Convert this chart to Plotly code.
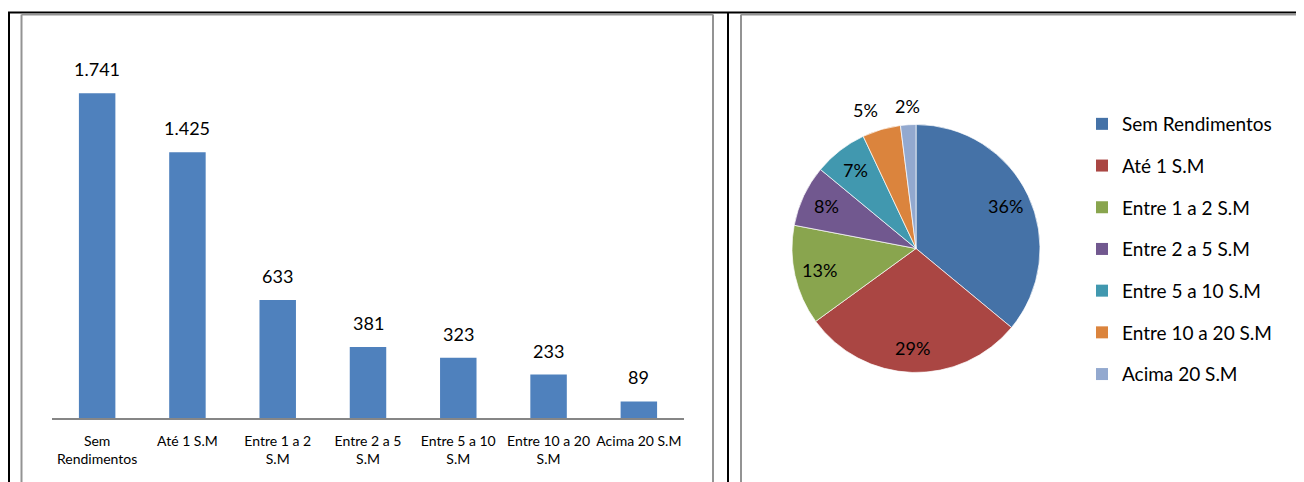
import math
import plotly.graph_objects as go

# Renda familiar (salarios minimos)
categorias = ["Sem Rendimentos", "Até 1 S.M", "Entre 1 a 2 S.M", "Entre 2 a 5 S.M",
              "Entre 5 a 10 S.M", "Entre 10 a 20 S.M", "Acima 20 S.M"]
rotulos_eixo = ["Sem<br>Rendimentos", "Até 1 S.M", "Entre 1 a 2<br>S.M", "Entre 2 a 5<br>S.M",
                "Entre 5 a 10<br>S.M", "Entre 10 a 20<br>S.M", "Acima 20 S.M"]
quantidade = [1741, 1425, 633, 381, 323, 233, 89]
percentual = [36, 29, 13, 8, 7, 5, 2]
rotulo_fora = [False, False, False, False, False, True, True]

cor_barra = "#4F81BD"
cores_pizza = ["#4572A7", "#AA4643", "#89A54E", "#71588F", "#4198AF", "#DB843D", "#93A9CF"]

# a pagina tem margem de 8px no body
OFF = 8
W, H = 1304 - OFF, 482 - OFF
FONTE = "Lato"


def px(x):
    return (x - OFF) / W


def py(y):
    return 1 - (y - OFF) / H


fig = go.Figure()

fig.add_trace(go.Bar(
    x=rotulos_eixo,
    y=quantidade,
    marker=dict(color=cor_barra, line=dict(width=0)),
    showlegend=False,
    hoverinfo="x+y",
    xaxis="x", yaxis="y",
))

# pizza: centro e raio em pixels da janela
CX, CY, R = 916, 248.5, 124
fig.add_trace(go.Pie(
    labels=categorias,
    values=percentual,
    sort=False,
    direction="clockwise",
    rotation=0,
    marker=dict(colors=cores_pizza, line=dict(color="white", width=0.7)),
    textinfo="none",
    domain=dict(x=[px(CX - R), px(CX + R)], y=[py(CY + R), py(CY - R)]),
    showlegend=False,
))

# legenda da pizza
for nome, cor in zip(categorias, cores_pizza):
    fig.add_trace(go.Scatter(
        x=[None], y=[None], mode="markers", name=nome, legendgroup=nome,
        marker=dict(symbol="square", size=12, color=cor),
        xaxis="x2", yaxis="y2",
    ))

anots = []

# rotulos de dados das barras
for cat, val in zip(rotulos_eixo, quantidade):
    anots.append(dict(
        x=cat, y=val, xref="x", yref="y", text=f"{val:,}".replace(",", "."),
        showarrow=False, yanchor="bottom", yshift=11,
        font=dict(family=FONTE, size=18, color="black"),
    ))

# rotulos de porcentagem da pizza (posicao a partir do angulo medio da fatia)
total = sum(percentual)
acum = 0
for p, fora in zip(percentual, rotulo_fora):
    meio = (acum + p / 2) / total * 2 * math.pi
    acum += p
    s, c = math.sin(meio), math.cos(meio)
    if fora:
        rr = 1.05 * R
        xa = "right" if s < -0.2 else ("left" if s > 0.2 else "center")
        ya = "bottom" if c > 0 else "top"
    else:
        rr = 0.8 * R
        xa, ya = "center", "middle"
    anots.append(dict(
        x=px(CX + rr * s), y=py(CY - rr * c), xref="paper", yref="paper",
        text=f"{p}%", showarrow=False, xanchor=xa, yanchor=ya,
        font=dict(family=FONTE, size=18, color="black"),
    ))

# bordas da tabela
linhas = []


def linha(x0, y0, x1, y1, cor, w):
    linhas.append(dict(type="line", xref="paper", yref="paper",
                       x0=px(x0), y0=py(y0), x1=px(x1), y1=py(y1),
                       line=dict(color=cor, width=w)))


CINZA = "#939393"
linha(8, 12.5, 1302, 12.5, "black", 2)
linha(9, 12, 9, 482, "black", 2)
linha(728, 12, 728, 482, "black", 2)
linha(21.5, 14.5, 21.5, 482, CINZA, 2)
linha(21.5, 14.5, 713, 14.5, CINZA, 2)
linha(713, 14.5, 713, 482, CINZA, 2)
linha(741, 14.5, 741, 482, CINZA, 2)
linha(741, 14.5, 1300.5, 14.5, CINZA, 2)
linha(1300.5, 14.5, 1300.5, 482, CINZA, 2)

fig.update_layout(
    width=W, height=H,
    margin=dict(l=0, r=0, t=0, b=0),
    paper_bgcolor="white", plot_bgcolor="white",
    font=dict(family=FONTE, color="black"),
    bargap=0.596,
    xaxis=dict(domain=[px(52), px(684)], type="category", showgrid=False,
               showline=True, linecolor="#868686", linewidth=1.5, ticks="",
               ticklabelstandoff=9,
               tickfont=dict(family=FONTE, size=14, color="black"), fixedrange=True),
    yaxis=dict(domain=[py(418), py(45)], range=[0, 2000], visible=False, fixedrange=True),
    xaxis2=dict(domain=[0.9, 1], visible=False, anchor="y2"),
    yaxis2=dict(domain=[0, 0.1], visible=False, anchor="x2"),
    legend=dict(x=px(1082), y=py(105), xanchor="left", yanchor="top",
                traceorder="grouped", tracegroupgap=14, itemwidth=30,
                font=dict(family=FONTE, size=19, color="black"),
                bgcolor="rgba(0,0,0,0)"),
    annotations=anots,
    shapes=linhas,
)

fig.write_html("out.html")
